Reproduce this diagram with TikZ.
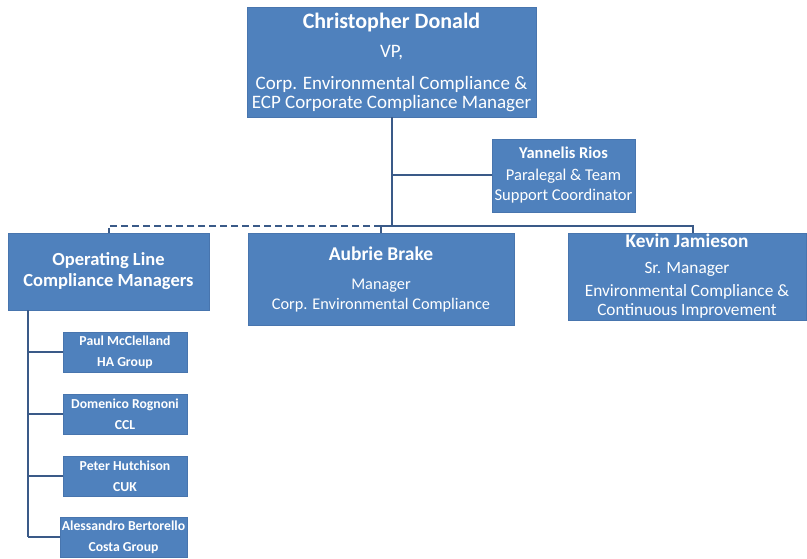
\documentclass[tikz,border=0pt]{standalone}
\usepackage{fontspec}
\setmainfont{Carlito}
\definecolor{boxblue}{RGB}{79,129,189}
\definecolor{boxedge}{RGB}{72,117,174}
\definecolor{linkblue}{RGB}{58,90,136}
\newcommand{\fsz}[2]{\fontsize{#1}{#2}\selectfont}

\begin{document}
\begin{tikzpicture}[x=1pt,y=-1pt,
  box/.style={draw=boxedge, fill=boxblue, text=white, align=center, inner sep=1pt, line width=0.8pt},
  smallbox/.style={box, minimum width=124pt, minimum height=40pt, font=\bfseries\fsz{13.7}{21}},
  link/.style={draw=linkblue, line width=2pt},
  dashlink/.style={link, dash pattern=on 7pt off 4pt}]
  \useasboundingbox (0,0) rectangle (807,559);
  % top of the chart
  \node[box, minimum width=289pt, minimum height=110pt, font=\fsz{19}{19}] (vp) at (391.5,62)
    {{\bfseries\fsz{22}{22}Christopher Donald}\\[10pt] VP,\\[13pt] Corp. Environmental Compliance \&\\ ECP Corporate Compliance Manager};
  \node[box, minimum width=143pt, minimum height=73pt, font=\fsz{16.5}{20}] (yannelis) at (563.5,175.5)
    {{\bfseries Yannelis Rios}\\[2pt] Paralegal \& Team\\ Support Coordinator};
  % second row
  \node[box, minimum width=201pt, minimum height=77pt, font=\bfseries\fsz{18.5}{21}] (olcm) at (108.5,271.5)
    {Operating Line\\ Compliance Managers};
  \node[box, minimum width=266pt, minimum height=92pt, font=\fsz{16.3}{20}] (aubrie) at (381,279)
    {{\bfseries\fsz{19.5}{20}Aubrie Brake}\\[9pt] Manager\\ Corp. Environmental Compliance};
  \node[box, minimum width=238pt, minimum height=87pt, font=\fsz{17.3}{19}] (kevin) at (687,276.5)
    {{\bfseries\fsz{19.3}{20}Kevin Jamieson}\\[7pt] Sr. Manager\\[4pt] Environmental Compliance \&\\ Continuous Improvement};
  % operating line managers
  \node[smallbox] (paul) at (125,352) {Paul McClelland\\ HA Group};
  \node[smallbox] (domenico) at (125,414) {Domenico Rognoni\\ CCL};
  \node[smallbox] (peter) at (125,476) {Peter Hutchison\\ CUK};
  \node[smallbox, minimum width=127pt] (alessandro) at (123.5,537) {Alessandro Bertorello\\ Costa Group};
  \coordinate (spine) at (28,0);
  % connectors
  \draw[link] (vp.south) -- (vp.south |- 0,226);
  \draw[link] (vp.south |- yannelis.west) -- (yannelis.west);
  \draw[link] (aubrie.north) -- ++(0,-7) -| ([xshift=6pt]kevin.north);
  \draw[dashlink] (aubrie.north) ++(0,-7) -| (olcm.north);
  \draw[link] (olcm.south -| spine) -- (spine |- alessandro.west);
  \foreach \n in {paul,domenico,peter,alessandro}
    \draw[link] (spine |- \n.west) -- (\n.west);
\end{tikzpicture}
\end{document}
